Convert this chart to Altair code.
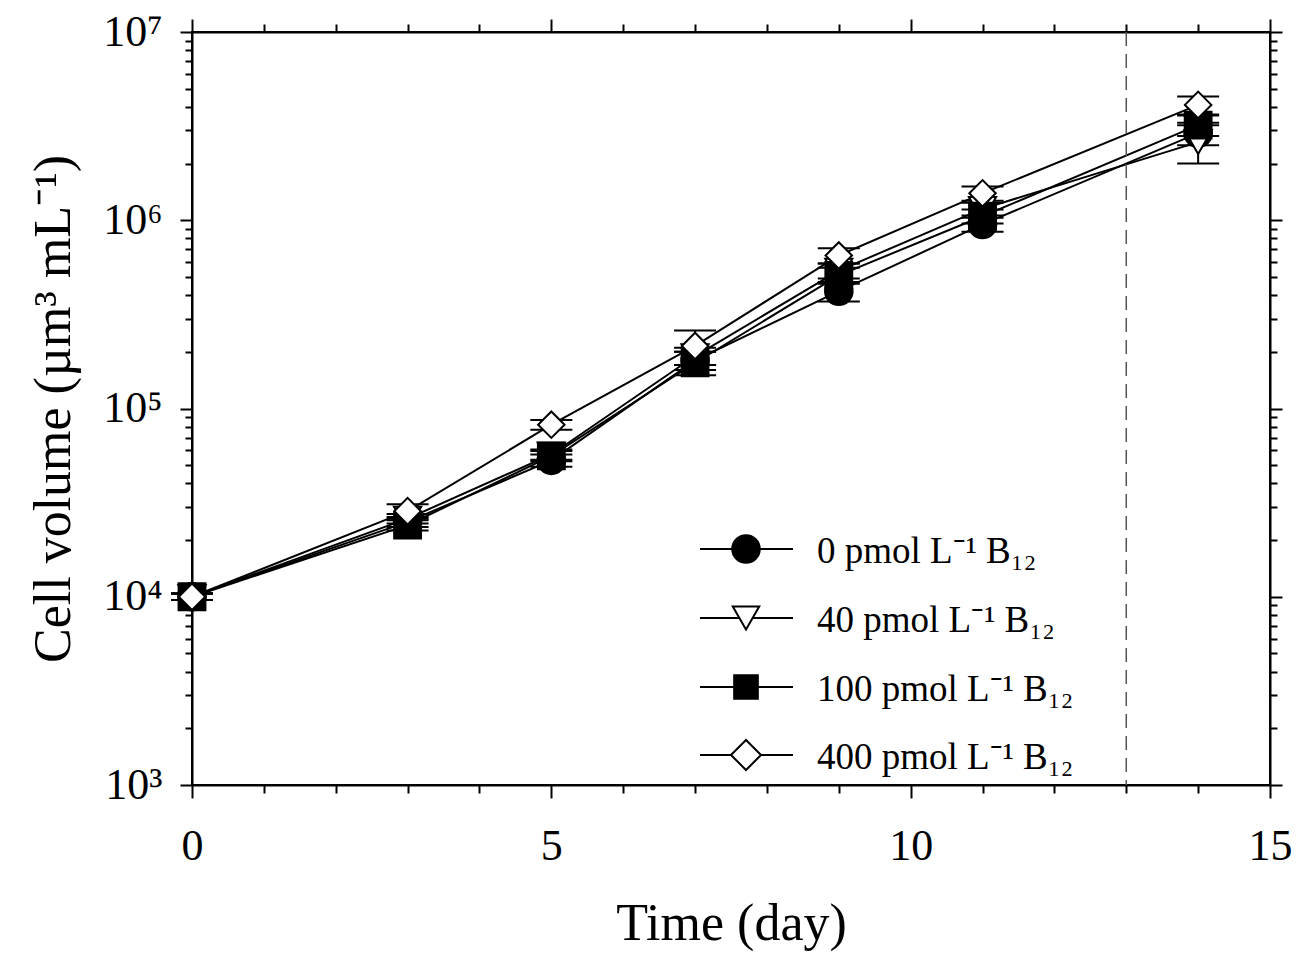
import altair as alt
import pandas as pd

# ---- data ----
days = [0, 3, 5, 7, 9, 11, 14]
series_names = ["0 pmol L⁻¹ B₁₂", "40 pmol L⁻¹ B₁₂", "100 pmol L⁻¹ B₁₂", "400 pmol L⁻¹ B₁₂"]
vol_0 = [1.0e4, 2.5e4, 5.3e4, 1.8e5, 4.2e5, 9.5e5, 2.9e6]
vol_40 = [1.0e4, 2.6e4, 5.7e4, 1.9e5, 5.4e5, 1.15e6, 2.6e6]
vol_100 = [1.0e4, 2.4e4, 5.6e4, 1.75e5, 5.1e5, 1.05e6, 3.2e6]
vol_400 = [1.0e4, 2.85e4, 8.2e4, 2.15e5, 6.5e5, 1.39e6, 4.1e6]
sd_0 = [400, 1500, 4000, 2.0e4, 5.0e4, 8.0e4, 4.0e5]
sd_40 = [400, 1500, 3500, 2.0e4, 5.0e4, 9.0e4, 6.0e5]
sd_100 = [400, 1500, 3500, 2.5e4, 5.0e4, 9.0e4, 4.0e5]
sd_400 = [400, 2500, 5000, 4.5e4, 6.0e4, 1.2e5, 4.5e5]
x_ticks = list(range(0, 16))
y_ticks = [m * 10 ** k for k in range(3, 7) for m in range(1, 10)] + [10 ** 7]
dashed_day = [13]

# ---- styling ----
FONT = "Liberation Serif"
shapes = ["circle", "triangle-down", "square", "diamond"]
fills = ["black", "white", "black", "white"]
sizes = [760, 700, 560, 900]

rows = []
for name, vals, sds in zip(series_names, [vol_0, vol_40, vol_100, vol_400], [sd_0, sd_40, sd_100, sd_400]):
    for d, v, s in zip(days, vals, sds):
        rows.append({"series": name, "day": d, "vol": v, "lo": v - s, "hi": v + s})
df = pd.DataFrame(rows)

xs = alt.Scale(domain=[0, 15], nice=False, zero=False)
ys = alt.Scale(type="log", domain=[1e3, 1e7], nice=False)

decades = "[1000,10000,100000,1000000,10000000]"
x_major = "datum.value % 5 === 0"
y_major = "indexof(" + decades + ", datum.value) >= 0"
y_label_expr = (
    "datum.value == 1000 ? '10³' : datum.value == 10000 ? '10⁴' : "
    "datum.value == 100000 ? '10⁵' : datum.value == 1000000 ? '10⁶' : "
    "datum.value == 10000000 ? '10⁷' : ''"
)

x_common = dict(values=x_ticks, tickSize={"condition": {"test": x_major, "value": 13}, "value": 8},
                tickColor="black", tickWidth=2, domainColor="black", domainWidth=2, grid=False)
y_common = dict(values=y_ticks, tickSize={"condition": {"test": y_major, "value": 12}, "value": 7},
                tickColor="black", tickWidth=2, domainColor="black", domainWidth=2, grid=False)

bottom_axis = alt.Axis(orient="bottom", title="Time (day)", labelExpr="datum.value % 5 === 0 ? datum.label : ''",
                       labelFont=FONT, labelFontSize=44, labelColor="black", labelPadding=26,
                       labelFlush=False, labelOverlap=False,
                       titleFont=FONT, titleFontSize=52, titleFontWeight="normal", titleColor="black",
                       titlePadding=30, **x_common)
left_axis = alt.Axis(orient="left", title="Cell volume (µm³ mL⁻¹)", labelExpr=y_label_expr,
                     labelFont=FONT, labelFontSize=44, labelColor="black", labelPadding=18,
                     titleFont=FONT, titleFontSize=52, titleFontWeight="normal", titleColor="black",
                     titlePadding=22, labelFlush=False, labelOverlap=False, **y_common)
top_axis = alt.Axis(orient="top", title=None, labels=False, **x_common)
right_axis = alt.Axis(orient="right", title=None, labels=False, **y_common)

base = alt.Chart(df)

lines = base.mark_line(color="black", strokeWidth=2).encode(
    x=alt.X("day:Q", scale=xs, axis=bottom_axis),
    y=alt.Y("vol:Q", scale=ys, axis=left_axis),
    detail="series:N",
)

dashed = alt.Chart(pd.DataFrame({"d": dashed_day})).mark_rule(
    color="#555555", strokeWidth=1.5, strokeDash=[14, 8]
).encode(x=alt.X("d:Q", scale=xs, axis=None))

err = base.mark_rule(color="black", strokeWidth=2).encode(
    x=alt.X("day:Q", scale=xs, axis=None),
    y=alt.Y("lo:Q", scale=ys, axis=None),
    y2="hi:Q",
)
cap_lo = base.mark_tick(orient="horizontal", size=42, thickness=2, color="black", opacity=1).encode(
    x=alt.X("day:Q", scale=xs, axis=None), y=alt.Y("lo:Q", scale=ys, axis=None))
cap_hi = base.mark_tick(orient="horizontal", size=42, thickness=2, color="black", opacity=1).encode(
    x=alt.X("day:Q", scale=xs, axis=None), y=alt.Y("hi:Q", scale=ys, axis=None))

points = base.mark_point(filled=True, stroke="black", strokeWidth=2, opacity=1).encode(
    x=alt.X("day:Q", scale=xs, axis=None),
    y=alt.Y("vol:Q", scale=ys, axis=None),
    shape=alt.Shape("series:N", scale=alt.Scale(domain=series_names, range=shapes), legend=None),
    fill=alt.Fill("series:N", scale=alt.Scale(domain=series_names, range=fills), legend=None),
    size=alt.Size("series:N", scale=alt.Scale(domain=series_names, range=sizes), legend=None),
)

frame = base.mark_point(opacity=0).encode(
    x=alt.X("day:Q", scale=xs, axis=top_axis),
    y=alt.Y("vol:Q", scale=ys, axis=right_axis),
)

# ---- manual legend (pixel positions inside plot area) ----
legend_layers = []
row_y = [517, 586, 655, 723]
for name, shp, fl, sz, yy in zip(series_names, shapes, fills, sizes, row_y):
    ldf = pd.DataFrame({"label": [name]})
    lc = alt.Chart(ldf)
    legend_layers.append(lc.mark_rule(color="black", strokeWidth=2).encode(
        x=alt.value(508), x2=alt.value(601), y=alt.value(yy)))
    legend_layers.append(lc.mark_point(shape=shp, fill=fl, filled=True, stroke="black", strokeWidth=2,
                                       size=sz, opacity=1).encode(x=alt.value(554), y=alt.value(yy)))
    legend_layers.append(lc.mark_text(font=FONT, fontSize=37, color="black", align="left",
                                      baseline="alphabetic").encode(
        x=alt.value(625), y=alt.value(yy + 14), text="label:N"))

chart = alt.layer(lines, dashed, err, cap_lo, cap_hi, points, frame, *legend_layers).resolve_axis(
    x="independent", y="independent"
).properties(
    width=1078, height=753,
    autosize=alt.AutoSizeParams(type="none"),
    padding={"left": 184, "top": 24, "right": 22, "bottom": 182},
    background="white",
).configure_view(stroke="black", strokeWidth=2)

chart.save("out.html", embed_options={"renderer": "svg", "actions": False})
